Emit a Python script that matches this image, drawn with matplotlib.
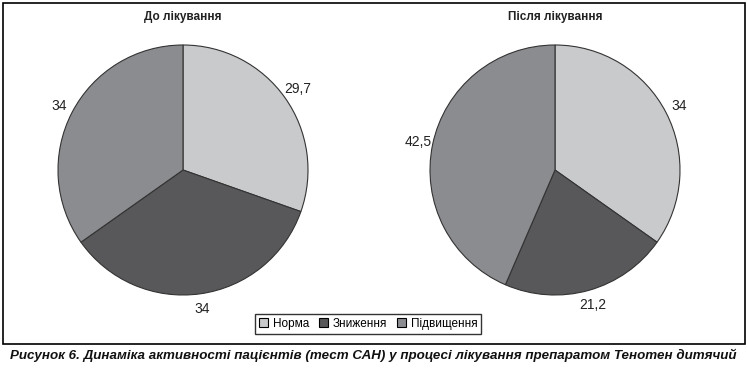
import numpy as np
import matplotlib.pyplot as plt
from matplotlib.patches import Rectangle, Patch

plt.rcParams['font.family'] = ['Liberation Sans', 'DejaVu Sans']

categories = ['Норма', 'Зниження', 'Підвищення']
before = [29.7, 34, 34]
after = [34, 21.2, 42.5]
titles = ['До лікування', 'Після лікування']
colors = ['#c9cacc', '#58585a', '#8b8c8f']
caption = ('Рисунок 6. Динаміка активності пацієнтів (тест САН) '
           'у процесі лікування препаратом Тенотен дитячий')

W, H = 747, 369
fig = plt.figure(figsize=(W / 100, H / 100), dpi=100)


def px_axes(cx, cy, r):
    return fig.add_axes([(cx - r) / W, (H - cy - r) / H, 2 * r / W, 2 * r / H])


for cx, vals, title in [(183, before, titles[0]), (555, after, titles[1])]:
    ax = px_axes(cx, 170, 125)
    wedges, _ = ax.pie(vals, colors=colors, startangle=90, counterclock=False,
                       wedgeprops=dict(edgecolor='#333333', linewidth=0.8))
    ax.set_xlim(-1, 1)
    ax.set_ylim(-1, 1)
    ax.set_aspect('equal')
    for w, v in zip(wedges, vals):
        mid = np.deg2rad((w.theta1 + w.theta2) / 2)
        ax.text(1.12 * np.cos(mid), 1.12 * np.sin(mid), str(v).replace('.', ','),
                ha='center', va='center', fontsize=10, color='#222222')
    fig.text(cx / W, 1 - 17 / H, title, ha='center', va='center',
             fontsize=8.5, fontweight='bold', color='#222222')

# outer frame
fig.patches.append(Rectangle((3 / W, 1 - 344 / H), 742 / W, 341 / H,
                             transform=fig.transFigure, fill=False,
                             edgecolor='black', linewidth=1.2))

handles = [Patch(facecolor=c, edgecolor='black', linewidth=0.8) for c in colors]
leg = fig.legend(handles, categories, loc='center', bbox_to_anchor=(368 / W, 1 - 324 / H),
                 ncol=3, fontsize=8.5, frameon=True, fancybox=False,
                 handlelength=0.8, handleheight=0.8, handletextpad=0.4,
                 columnspacing=0.8, borderpad=0.35, borderaxespad=0)
leg.get_frame().set_edgecolor('black')
leg.get_frame().set_linewidth(1.0)

cap = fig.text(373 / W, 1 - 355 / H, caption, ha='center', va='center', fontsize=10,
               fontweight='bold', fontstyle='italic', color='#111111')
# shrink caption to span the same width as in the reference
fig.canvas.draw()
w_px = cap.get_window_extent().width
cap.set_fontsize(10 * 727 / w_px)

fig.savefig('out.png', dpi=100)
